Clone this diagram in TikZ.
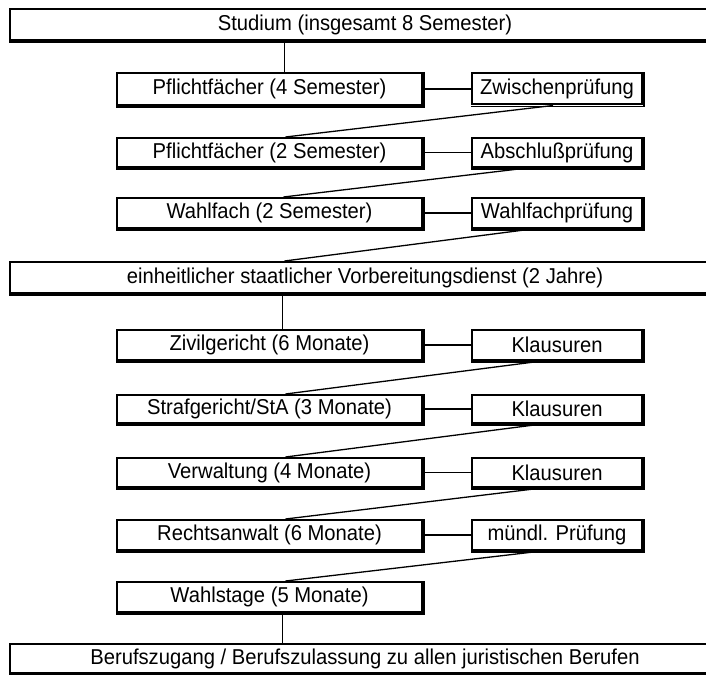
\documentclass[tikz,border=0pt]{standalone}
\usepackage{fontspec}
\setmainfont{Liberation Sans}[FakeStretch=0.94]
\begin{document}
\begin{tikzpicture}[x=1pt,y=-1pt,
  box/.style={draw, line width=2pt, inner sep=0pt,
    font=\fontsize{21.5}{24}\selectfont},
  wide/.style={box, minimum width=710pt},
  stage/.style={box, minimum width=305pt, minimum height=30pt},
  exam/.style={box, minimum width=170pt, minimum height=30pt},
  link/.style={line width=1.3pt},
  heavy/.style={line width=1.6pt}]
\useasboundingbox (0,0) rectangle (706,674);
\clip (0,0) rectangle (706,674);

% overall frame boxes
\node[wide, minimum height=31pt] (studium) at (365,24.5) {Studium (insgesamt 8 Semester)};
\node[wide, minimum height=31pt] (vd) at (365,277.5) {einheitlicher staatlicher Vorbereitungsdienst (2 Jahre)};
\node[wide, minimum height=29pt] (beruf) at (365,658.5) {Berufszugang / Berufszulassung zu allen juristischen Berufen};

% study phases and their exams
\node[stage, minimum height=32pt] (pf4) at (269.5,89) {Pflichtfächer (4 Semester)};
\node[exam, minimum height=31pt] (zw) at (557,89) {Zwischenprüfung};
\node[stage, minimum height=29pt] (pf2) at (269.5,152.5) {Pflichtfächer (2 Semester)};
\node[exam, minimum height=29pt] (ab) at (557,152.5) {Abschlußprüfung};
\node[stage] (wf) at (269.5,213) {Wahlfach (2 Semester)};
\node[exam] (wfp) at (557,213) {Wahlfachprüfung};

% preparatory service stations
\node[stage] (zg) at (269.5,345) {Zivilgericht (6 Monate)};
\node[exam] (k1) at (557,345) {Klausuren};
\node[stage, minimum height=28pt] (sg) at (269.5,409) {Strafgericht/StA (3 Monate)};
\node[exam, minimum height=28pt] (k2) at (557,409) {Klausuren};
\node[stage, minimum height=29pt] (vw) at (269.5,472.5) {Verwaltung (4 Monate)};
\node[exam, minimum height=29pt] (k3) at (557,472.5) {Klausuren};
\node[stage] (ra) at (269.5,535) {Rechtsanwalt (6 Monate)};
\node[exam] (mp) at (557,535) {mündl. Prüfung};
\node[stage] (ws) at (269.5,597) {Wahlstage (5 Monate)};

% heavier right and bottom edges
\foreach \n in {pf4,zw,pf2,ab,wf,wfp,zg,k1,sg,k2,vw,k3,ra,mp,ws}
  \draw[heavy] ([shift={(1,0)}]\n.north east) -- ([shift={(1,1)}]\n.south east)
               -- ([shift={(0,1)}]\n.south west);
\foreach \n in {studium,vd,beruf}
  \draw[heavy] ([shift={(0,1)}]\n.south west) -- ([shift={(0,1)}]\n.south east);

% vertical links
\draw[link] ([xshift=15pt]pf4.north) -- ([xshift=15pt]pf4.north |- studium.south);
\draw[link] ([xshift=13pt]zg.north) -- ([xshift=13pt]zg.north |- vd.south);
\draw[link] ([xshift=13pt]ws.south) -- ([xshift=13pt]ws.south |- beruf.north);

% horizontal links to the exams
\foreach \a/\b in {pf4/zw,pf2/ab,wf/wfp,zg/k1,sg/k2,vw/k3,ra/mp}
  \draw[link] (\a) -- (\b);

% diagonal links from each exam to the next phase
\draw[link] ([xshift=-4pt]zw.south) -- ([xshift=16pt]pf2.north);
\draw[link] ([xshift=-30pt]ab.south) -- ([xshift=14pt]wf.north);
\draw[link] ([xshift=-25pt]wfp.south) -- ([xshift=15pt]wf.south |- vd.north);
\draw[link] ([xshift=-15pt]k1.south) -- ([xshift=16pt]sg.north);
\draw[link] ([xshift=-15pt]k2.south) -- ([xshift=16pt]vw.north);
\draw[link] ([xshift=-15pt]k3.south) -- ([xshift=16pt]ra.north);
\draw[link] ([xshift=-15pt]mp.south) -- ([xshift=16pt]ws.north);
\end{tikzpicture}
\end{document}
